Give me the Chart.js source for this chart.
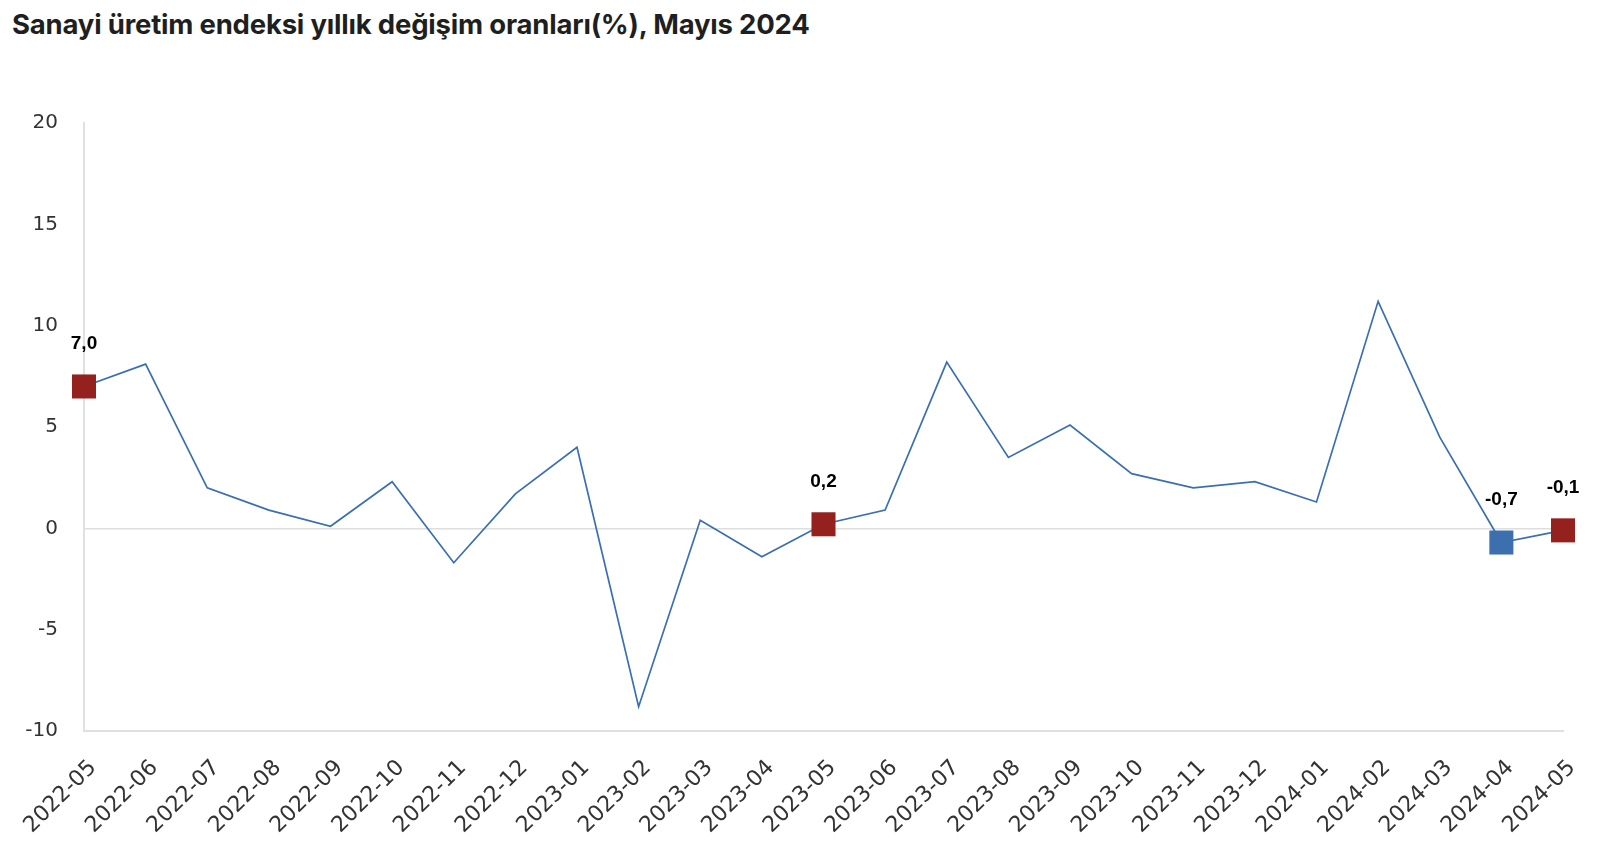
<!DOCTYPE html>
<html>
<head>
<meta charset="utf-8">
<script src="https://cdn.jsdelivr.net/npm/chart.js@4"></script>
<style>
    body { margin: 0; background: #fff; }
    #title {
        position: absolute; left: 12px; top: 7px;
        font: 700 27.5px 'Inter', sans-serif; color: #1f1f1f;
        letter-spacing: -0.2px;
    }
    #wrap { position: absolute; left: 0; top: 0; width: 1624px; height: 852px; }
</style>
</head>
<body>
<div id="title">Sanayi üretim endeksi yıllık değişim oranları(%), Mayıs 2024</div>
<div id="wrap"><canvas id="chart"></canvas></div>
<script>
const months = ['2022-05', '2022-06', '2022-07', '2022-08', '2022-09', '2022-10', '2022-11', '2022-12',
    '2023-01', '2023-02', '2023-03', '2023-04', '2023-05', '2023-06', '2023-07', '2023-08', '2023-09',
    '2023-10', '2023-11', '2023-12', '2024-01', '2024-02', '2024-03', '2024-04', '2024-05'];
const changes = [7.0, 8.1, 2.0, 0.9, 0.1, 2.3, -1.7, 1.7,
    4.0, -8.8, 0.4, -1.4, 0.2, 0.9, 8.2, 3.5, 5.1,
    2.7, 2.0, 2.3, 1.3, 11.2, 4.5, -0.7, -0.1];
const yTicks = [-10, -5, 0, 5, 10, 15, 20];
// months with a marker + label
const markedRed = ['2022-05', '2023-05', '2024-05'];
const markedBlue = ['2024-04'];

const lineColor = '#3a6fb0';
const red = '#95211e';
const blue = '#3b6fae';
const tickFont = '"DejaVu Sans", sans-serif';

const markerColor = months.map(m => markedRed.includes(m) ? red : (markedBlue.includes(m) ? blue : lineColor));
const markerRadius = months.map(m => (markedRed.includes(m) || markedBlue.includes(m)) ? 17 : 0);

// draws value labels above marked points
const valueLabels = {
    id: 'valueLabels',
    afterDatasetsDraw(chart) {
        const ctx = chart.ctx;
        const meta = chart.getDatasetMeta(0);
        ctx.save();
        ctx.font = 'bold 19px "Liberation Sans", Arial, sans-serif';
        ctx.fillStyle = '#000';
        ctx.textAlign = 'center';
        ctx.textBaseline = 'middle';
        meta.data.forEach((pt, i) => {
            if (!markerRadius[i]) return;
            const txt = changes[i].toFixed(1).replace('.', ',');
            ctx.fillText(txt, pt.x, pt.y - 43);
        });
        ctx.restore();
    }
};

const ctx = document.getElementById('chart').getContext('2d');
new Chart(ctx, {
    type: 'line',
    data: {
        labels: months,
        datasets: [{
            data: changes,
            borderColor: lineColor,
            borderWidth: 1.7,
            tension: 0,
            pointStyle: 'rect',
            pointRadius: markerRadius,
            pointHoverRadius: markerRadius,
            pointBackgroundColor: markerColor,
            pointBorderColor: markerColor,
            pointBorderWidth: 0,
            clip: false
        }]
    },
    options: {
        responsive: true,
        maintainAspectRatio: false,
        animation: false,
        events: [],
        layout: { padding: { top: 123, right: 61, bottom: 10, left: 0 } },
        plugins: {
            legend: { display: false },
            tooltip: { enabled: false }
        },
        scales: {
            x: {
                offset: false,
                grid: { display: false },
                border: { display: true, color: '#e0e0e0', width: 2 },
                ticks: {
                    color: '#333',
                    font: { family: tickFont, size: 22 },
                    minRotation: 45, maxRotation: 45,
                    labelOffset: 9,
                    padding: 16
                },
                afterFit: s => { s.height = 111; }
            },
            y: {
                min: -10, max: 20,
                afterBuildTicks: s => { s.ticks = yTicks.map(v => ({ value: v })); },
                grid: {
                    drawTicks: false,
                    color: c => c.tick && c.tick.value === 0 ? '#dedede' : 'rgba(0,0,0,0)',
                    lineWidth: 1.5
                },
                border: { display: true, color: '#e0e0e0', width: 2 },
                ticks: {
                    color: '#333',
                    font: { family: tickFont, size: 20 },
                    padding: 26
                },
                afterFit: s => { s.width = 84; }
            }
        }
    },
    plugins: [valueLabels]
});
</script>
</body>
</html>
